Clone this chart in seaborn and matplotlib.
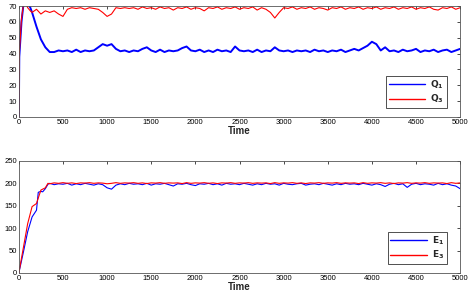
import seaborn as sns
import matplotlib.pyplot as plt

# ---- data ----
# top panel: Q1 (blue) and Q3 (red); values above 70 are clipped by the axis
t_q_start = [0, 5, 30, 60, 100, 130, 150, 200, 250, 300, 350]
q1_start = [0, 38, 60, 75, 72, 69, 66, 57, 49, 44, 41]
q3_start = [0, 40, 62, 74, 69, 67, 66, 68, 65, 67, 66]

t_tail = list(range(400, 5001, 50))

q1_tail = [41, 42, 41.5, 42, 41, 42.5, 41, 42, 41.5, 42,
           44, 46, 45, 46, 43, 41.5, 42, 41, 42, 41.5,
           43, 44, 42, 41, 42.5, 41, 42, 41.5, 42, 43.5,
           44.5, 42, 41.5, 42.5, 41, 42, 41, 42.5, 41.5, 42,
           41, 44.5, 42, 41.5, 42, 41, 42.5, 41, 42, 41.5,
           44, 42, 41.5, 42, 41, 42, 41.5, 42, 41, 42.5,
           41.5, 42, 41, 42, 41.5, 42.5, 41, 42, 43, 42,
           43.5, 45, 47.5, 46, 42, 44, 41.5, 42, 41, 42.5,
           41.5, 42, 43, 41, 42, 41.5, 42.5, 41, 42, 42.5,
           41, 42, 43]

q3_tail = [67, 65, 63.5, 68, 69, 68.5, 69, 68, 69, 68.5,
           68, 66, 63.5, 65, 69, 68.5, 69, 68.5, 69, 68,
           69.5, 68.5, 69, 68, 69.5, 68.5, 69, 67.5, 69, 68.5,
           69.5, 68, 69, 68.5, 67, 69, 68.5, 69.5, 68, 69,
           68.5, 69.5, 68, 69, 68.5, 69.5, 67.5, 69, 68, 66,
           62.5, 66, 69, 68.5, 69.5, 68, 69, 68.5, 69.5, 68,
           69, 68.5, 67.5, 69, 68.5, 69.5, 68, 69, 68.5, 69.5,
           68, 69, 68.5, 69.5, 68, 69, 68.5, 69.5, 68, 69,
           68.5, 69.5, 68, 69, 68.5, 69.5, 68, 67.5, 69, 68.5,
           69.5, 68, 69]

# bottom panel: E1 (blue) and E3 (red)
t_e1_start = [0, 50, 100, 150, 200, 220, 250, 270, 300, 330, 350]
e1_start = [0, 45, 92, 125, 140, 180, 182, 181, 188, 198, 200]
t_e3_start = [0, 50, 100, 150, 200, 250, 300, 330, 350]
e3_start = [0, 55, 110, 148, 155, 185, 190, 200, 199]

e1_tail = [197, 199, 198, 200, 196, 199, 197, 200, 198, 196,
           199, 197, 190, 187, 196, 199, 197, 200, 198, 199,
           197, 200, 196, 199, 198, 200, 197, 194, 199, 198,
           200, 197, 195, 199, 198, 200, 197, 199, 196, 200,
           198, 199, 197, 200, 198, 196, 199, 197, 200, 198,
           199, 196, 200, 198, 197, 199, 200, 196, 198, 199,
           197, 200, 198, 196, 199, 197, 200, 198, 199, 197,
           200, 198, 196, 199, 197, 193, 198, 200, 197, 199,
           191, 198, 200, 197, 199, 198, 196, 200, 197, 199,
           196, 194, 188]

e3_tail = [201, 200, 201.5, 200, 201, 199.5, 201, 200.5, 201.5, 200,
           201, 200.5, 199, 200, 201.5, 200, 201, 200.5, 201.5, 200,
           201, 199.5, 201, 200.5, 201.5, 200, 201, 200.5, 201, 199.5,
           201.5, 200, 201, 200.5, 201.5, 200, 201, 199.5, 201, 200.5,
           201.5, 200, 201, 200.5, 201.5, 200, 201, 200.5, 201, 199.5,
           201.5, 200, 201, 200.5, 201.5, 200, 201, 199.5, 201, 200.5,
           201.5, 200, 201, 200.5, 201.5, 200, 201, 200.5, 201, 199.5,
           201.5, 200, 201, 200.5, 201.5, 200, 201, 199.5, 201, 200.5,
           201.5, 200, 201, 200.5, 201.5, 200, 201, 200.5, 201, 199.5,
           201.5, 200, 201]

sns.set_style('white')
plt.rcParams['font.family'] = ['Liberation Sans', 'DejaVu Sans']

fig = plt.figure(figsize=(4.71, 2.91), dpi=100)
ax1 = fig.add_axes([0.040, 0.598, 0.937, 0.381])
ax2 = fig.add_axes([0.040, 0.062, 0.937, 0.385])

sns.lineplot(x=t_q_start + t_tail, y=q1_start + q1_tail, ax=ax1, color='blue',
             lw=1.4, label=r'$\mathbf{Q_1}$', estimator=None, sort=False)
sns.lineplot(x=t_q_start + t_tail, y=q3_start + q3_tail, ax=ax1, color='red',
             lw=0.8, label=r'$\mathbf{Q_3}$', estimator=None, sort=False)
sns.lineplot(x=t_e1_start + t_tail, y=e1_start + e1_tail, ax=ax2, color='blue',
             lw=0.8, label=r'$\mathbf{E_1}$', estimator=None, sort=False)
sns.lineplot(x=t_e3_start + t_tail, y=e3_start + e3_tail, ax=ax2, color='red',
             lw=0.8, label=r'$\mathbf{E_3}$', estimator=None, sort=False)

for ax, ymax, ystep in [(ax1, 70, 10), (ax2, 250, 50)]:
    ax.set_xlim(0, 5000)
    ax.set_ylim(0, ymax)
    ax.set_xticks(range(0, 5001, 500))
    ax.set_yticks(range(0, ymax + 1, ystep))
    ax.tick_params(direction='in', top=True, right=True, length=2.5, width=0.5,
                   labelsize=5.5, pad=1.5, colors='black')
    for s in ax.spines.values():
        s.set_linewidth(0.6)
        s.set_color('#555555')
    ax.set_xlabel('Time', fontsize=7, fontweight='bold', labelpad=0)
    ax.set_ylabel('')
    leg = ax.legend(loc='lower right', bbox_to_anchor=(0.97, 0.08), fontsize=6.5,
                    frameon=True, fancybox=False, edgecolor='black',
                    handlelength=4.0, handletextpad=0.6, borderpad=0.3,
                    labelspacing=0.2, borderaxespad=0)
    leg.get_frame().set_linewidth(0.6)
    for line in leg.get_lines():
        line.set_linewidth(1.0)

fig.savefig('out.png', dpi=100)
